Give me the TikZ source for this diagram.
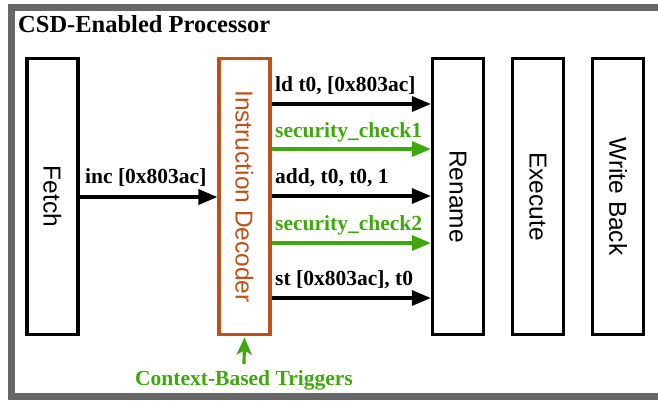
\documentclass[tikz,border=0pt]{standalone}
\usepackage{fontspec}
\setmainfont{Liberation Serif}
\newfontfamily\boxfont{Liberation Sans}
\usetikzlibrary{arrows.meta}
\definecolor{framegray}{HTML}{676767}
\definecolor{decorange}{HTML}{C0501A}
\definecolor{chkgreen}{HTML}{3FA80C}
\tikzset{
  stagebox/.style={draw=black, line width=3.2pt, minimum width=51pt, minimum height=276pt,
    inner sep=0pt, font=\boxfont\fontsize{24.5}{28}\selectfont},
  stagetext/.style={rotate=-90, font=\boxfont\fontsize{24.5}{28}\selectfont, inner sep=0pt},
  flow/.style={line width=3.3pt, -{Triangle[length=19pt,width=15pt]}},
  lbl/.style={anchor=base west, inner sep=0pt, font=\bfseries\fontsize{21.5}{24}\selectfont},
}
\begin{document}
\begin{tikzpicture}[x=1pt, y=-1pt]
\useasboundingbox (0,0) rectangle (658,400);
\clip (0,0) rectangle (658,400);
% outer processor frame
\draw[framegray, line width=7pt] (11.5,7.5) rectangle (680,396.5);
\node[anchor=base west, inner sep=0pt, font=\bfseries\fontsize{24.5}{28}\selectfont] (title) at (18,32) {CSD-Enabled Processor};

% pipeline stages
\node[stagebox] (fetch) at (52.5,196.5) {};
\node[stagetext] at (fetch.center) {Fetch};
\node[stagebox, draw=decorange] (dec) at (244.5,196.5) {};
\node[stagetext, text=decorange] at (dec.center) {Instruction Decoder};
\node[stagebox] (ren) at (458,196.5) {};
\node[stagetext] at (ren.center) {Rename};
\node[stagebox] (exe) at (538,196.5) {};
\node[stagetext] at (exe.center) {Execute};
\node[stagebox] (wb) at (618,196.5) {};
\node[stagetext] at (wb.center) {Write Back};

% fetch to decoder
\draw[flow] (fetch.east |- 0,197) -- (dec.west |- 0,197);
\node[lbl] (inc) at (85,183) {inc [0x803ac]};

% decoded micro-ops to rename
\coordinate (s1) at (dec.east |- 0,104);
\coordinate (s2) at (dec.east |- 0,149);
\coordinate (s3) at (dec.east |- 0,196);
\coordinate (s4) at (dec.east |- 0,243);
\coordinate (s5) at (dec.east |- 0,298);
\draw[flow] (s1) -- (ren.west |- s1);
\draw[flow, chkgreen] (s2) -- (ren.west |- s2);
\draw[flow] (s3) -- (ren.west |- s3);
\draw[flow, chkgreen] (s4) -- (ren.west |- s4);
\draw[flow] (s5) -- (ren.west |- s5);
\node[lbl] (l1) at (275,91) {ld t0, [0x803ac]};
\node[lbl, text=chkgreen] (l2) at (275,137) {security\_check1};
\node[lbl] (l3) at (275,183) {add, t0, t0, 1};
\node[lbl, text=chkgreen] (l4) at (275,230) {security\_check2};
\node[lbl] (l5) at (275,285) {st [0x803ac], t0};

% context triggers into decoder
\node[anchor=base, inner sep=0pt, text=chkgreen, font=\bfseries\fontsize{21.5}{24}\selectfont] (ctx) at (244,385) {Context-Based Triggers};
\coordinate (ctxtop) at (244,364);
\draw[chkgreen, line width=3.2pt, -{Stealth[length=17pt,width=15pt,inset=4pt]}] (ctxtop) -- (dec.south |- 0,337.5);
\end{tikzpicture}
\end{document}
